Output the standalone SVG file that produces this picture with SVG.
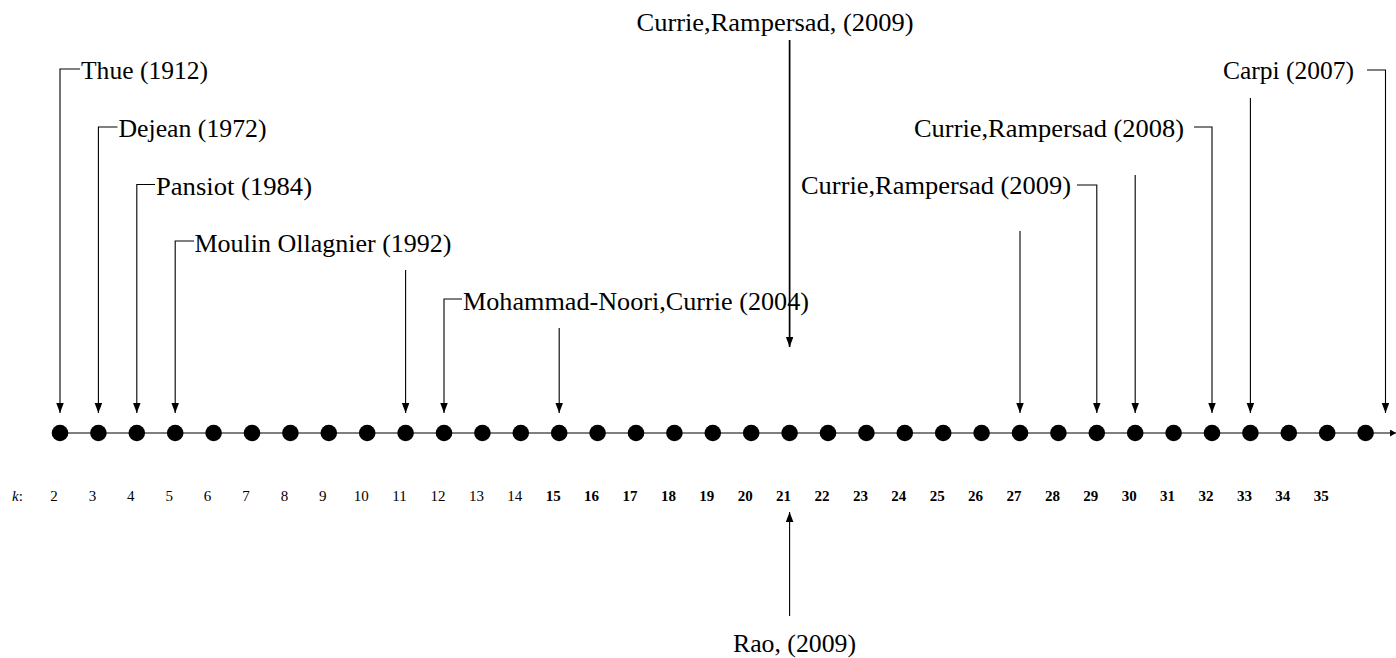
<svg xmlns="http://www.w3.org/2000/svg" width="1396" height="658" viewBox="0 0 1396 658">
<style>
.lbl{font-family:"Liberation Serif","DejaVu Serif",serif;font-size:25px;fill:#000}
.num{font-family:"Liberation Serif","DejaVu Serif",serif;font-size:15px;fill:#000;text-anchor:middle}
.b{font-weight:bold}
.ln{stroke:#000;stroke-width:1.1;fill:none}
.dot{fill:#000}
</style>
<defs>
<marker id="ah" markerUnits="userSpaceOnUse" markerWidth="11" markerHeight="8" refX="10" refY="3.75" orient="auto">
<path d="M0,0 L10,3.75 L0,7.5 z" fill="#000"/>
</marker>
<marker id="ahs" markerUnits="userSpaceOnUse" markerWidth="8" markerHeight="8" refX="6" refY="3.5" orient="auto">
<path d="M0,0 L6,3.5 L0,7 z" fill="#000"/>
</marker>
</defs>

<g id="axis">
<line class="ln" x1="60" y1="433" x2="1396" y2="433" marker-end="url(#ahs)"/>
<circle class="dot" cx="60" cy="433" r="8.3"/>
<circle class="dot" cx="98.4" cy="433" r="8.3"/>
<circle class="dot" cx="136.8" cy="433" r="8.3"/>
<circle class="dot" cx="175.2" cy="433" r="8.3"/>
<circle class="dot" cx="213.6" cy="433" r="8.3"/>
<circle class="dot" cx="252" cy="433" r="8.3"/>
<circle class="dot" cx="290.4" cy="433" r="8.3"/>
<circle class="dot" cx="328.8" cy="433" r="8.3"/>
<circle class="dot" cx="367.2" cy="433" r="8.3"/>
<circle class="dot" cx="405.6" cy="433" r="8.3"/>
<circle class="dot" cx="444" cy="433" r="8.3"/>
<circle class="dot" cx="482.4" cy="433" r="8.3"/>
<circle class="dot" cx="520.8" cy="433" r="8.3"/>
<circle class="dot" cx="559.2" cy="433" r="8.3"/>
<circle class="dot" cx="597.6" cy="433" r="8.3"/>
<circle class="dot" cx="636" cy="433" r="8.3"/>
<circle class="dot" cx="674.4" cy="433" r="8.3"/>
<circle class="dot" cx="712.8" cy="433" r="8.3"/>
<circle class="dot" cx="751.2" cy="433" r="8.3"/>
<circle class="dot" cx="789.6" cy="433" r="8.3"/>
<circle class="dot" cx="828" cy="433" r="8.3"/>
<circle class="dot" cx="866.4" cy="433" r="8.3"/>
<circle class="dot" cx="904.8" cy="433" r="8.3"/>
<circle class="dot" cx="943.2" cy="433" r="8.3"/>
<circle class="dot" cx="981.6" cy="433" r="8.3"/>
<circle class="dot" cx="1020" cy="433" r="8.3"/>
<circle class="dot" cx="1058.4" cy="433" r="8.3"/>
<circle class="dot" cx="1096.8" cy="433" r="8.3"/>
<circle class="dot" cx="1135.2" cy="433" r="8.3"/>
<circle class="dot" cx="1173.6" cy="433" r="8.3"/>
<circle class="dot" cx="1212" cy="433" r="8.3"/>
<circle class="dot" cx="1250.4" cy="433" r="8.3"/>
<circle class="dot" cx="1288.8" cy="433" r="8.3"/>
<circle class="dot" cx="1327.2" cy="433" r="8.3"/>
<circle class="dot" cx="1365.6" cy="433" r="8.3"/>
</g>

<g id="k-labels">
<text x="12" y="501" style="font-family:'Liberation Serif',serif;font-size:15px"><tspan font-style="italic">k</tspan>:</text>
<text class="num" x="54" y="501">2</text>
<text class="num" x="92.4" y="501">3</text>
<text class="num" x="130.8" y="501">4</text>
<text class="num" x="169.2" y="501">5</text>
<text class="num" x="207.6" y="501">6</text>
<text class="num" x="246" y="501">7</text>
<text class="num" x="284.4" y="501">8</text>
<text class="num" x="322.8" y="501">9</text>
<text class="num" x="361.2" y="501">10</text>
<text class="num" x="399.6" y="501">11</text>
<text class="num" x="438" y="501">12</text>
<text class="num" x="476.4" y="501">13</text>
<text class="num" x="514.8" y="501">14</text>
<text class="num b" x="553.2" y="501">15</text>
<text class="num b" x="591.6" y="501">16</text>
<text class="num b" x="630" y="501">17</text>
<text class="num b" x="668.4" y="501">18</text>
<text class="num b" x="706.8" y="501">19</text>
<text class="num b" x="745.2" y="501">20</text>
<text class="num b" x="783.6" y="501">21</text>
<text class="num b" x="822" y="501">22</text>
<text class="num b" x="860.4" y="501">23</text>
<text class="num b" x="898.8" y="501">24</text>
<text class="num b" x="937.2" y="501">25</text>
<text class="num b" x="975.6" y="501">26</text>
<text class="num b" x="1014" y="501">27</text>
<text class="num b" x="1052.4" y="501">28</text>
<text class="num b" x="1090.8" y="501">29</text>
<text class="num b" x="1129.2" y="501">30</text>
<text class="num b" x="1167.6" y="501">31</text>
<text class="num b" x="1206" y="501">32</text>
<text class="num b" x="1244.4" y="501">33</text>
<text class="num b" x="1282.8" y="501">34</text>
<text class="num b" x="1321.2" y="501">35</text>
</g>

<g id="connectors">
<polyline class="ln" points="80,69 60,69 60,413" marker-end="url(#ah)"/>
<polyline class="ln" points="117.5,127 98.4,127 98.4,413" marker-end="url(#ah)"/>
<polyline class="ln" points="155,184.5 136.8,184.5 136.8,413" marker-end="url(#ah)"/>
<polyline class="ln" points="194,241 175.2,241 175.2,413" marker-end="url(#ah)"/>
<line class="ln" x1="405.6" y1="270" x2="405.6" y2="413" marker-end="url(#ah)"/>
<polyline class="ln" points="462,299 444,299 444,413" marker-end="url(#ah)"/>
<line class="ln" x1="559.2" y1="328" x2="559.2" y2="413" marker-end="url(#ah)"/>
<line x1="789.6" y1="40" x2="789.6" y2="347" stroke="#000" stroke-width="1.7" marker-end="url(#ah)"/>
<line class="ln" x1="1020" y1="231" x2="1020" y2="413" marker-end="url(#ah)"/>
<polyline class="ln" points="1077,185 1096.8,185 1096.8,413" marker-end="url(#ah)"/>
<line class="ln" x1="1135.2" y1="175" x2="1135.2" y2="413" marker-end="url(#ah)"/>
<polyline class="ln" points="1194,127 1212,127 1212,413" marker-end="url(#ah)"/>
<line class="ln" x1="1250.4" y1="98" x2="1250.4" y2="413" marker-end="url(#ah)"/>
<polyline class="ln" points="1367,70 1385.5,70 1385.5,413" marker-end="url(#ah)"/>
<line class="ln" x1="789.6" y1="616" x2="789.6" y2="512" marker-end="url(#ah)"/>
</g>

<g id="thue"><text class="lbl" x="81" y="79" textLength="127" lengthAdjust="spacingAndGlyphs">Thue (1912)</text></g>
<g id="dejean"><text class="lbl" x="118.5" y="137" textLength="148" lengthAdjust="spacingAndGlyphs">Dejean (1972)</text></g>
<g id="pansiot"><text class="lbl" x="156" y="194.5" textLength="156" lengthAdjust="spacingAndGlyphs">Pansiot (1984)</text></g>
<g id="moulin"><text class="lbl" x="194.5" y="252" textLength="257" lengthAdjust="spacingAndGlyphs">Moulin Ollagnier (1992)</text></g>
<g id="mohammad"><text class="lbl" x="463" y="310" textLength="346" lengthAdjust="spacingAndGlyphs">Mohammad-Noori,Currie (2004)</text></g>
<g id="currie-top"><text class="lbl" x="636.5" y="31" textLength="277" lengthAdjust="spacingAndGlyphs">Currie,Rampersad, (2009)</text></g>
<g id="currie-2009"><text class="lbl" x="801" y="194" textLength="270" lengthAdjust="spacingAndGlyphs">Currie,Rampersad (2009)</text></g>
<g id="currie-2008"><text class="lbl" x="914" y="137" textLength="270" lengthAdjust="spacingAndGlyphs">Currie,Rampersad (2008)</text></g>
<g id="carpi"><text class="lbl" x="1223" y="79" textLength="131" lengthAdjust="spacingAndGlyphs">Carpi (2007)</text></g>
<g id="rao"><text class="lbl" x="733" y="652" textLength="123" lengthAdjust="spacingAndGlyphs">Rao, (2009)</text></g>
</svg>
